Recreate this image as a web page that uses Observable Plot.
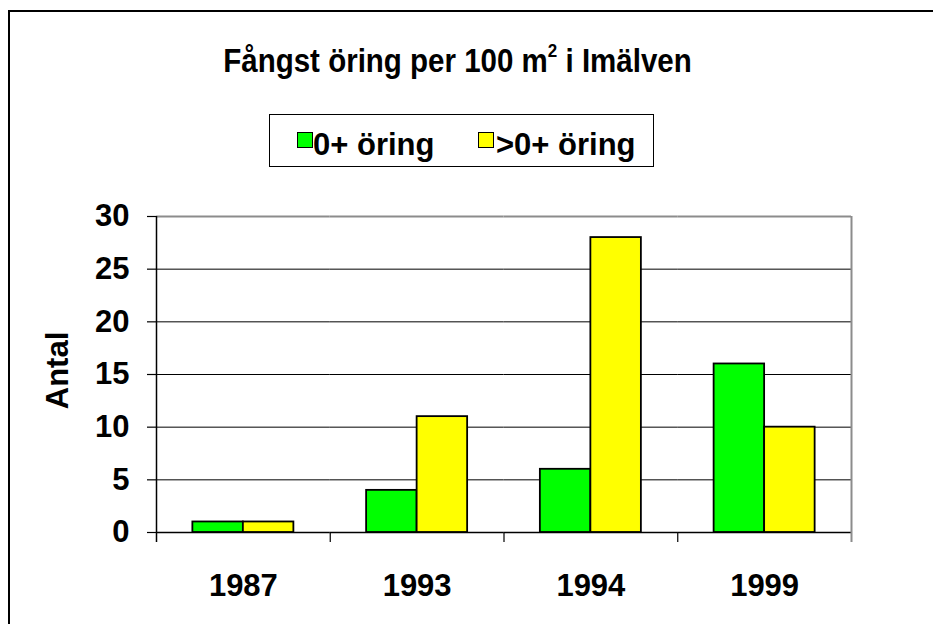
<!DOCTYPE html>
<html><head><meta charset="utf-8">
<script src="https://cdn.jsdelivr.net/npm/d3@7"></script>
<script src="https://cdn.jsdelivr.net/npm/@observablehq/plot@0.6"></script>
<style>
body{margin:0;background:#fff;font-family:"Liberation Sans",Arial,sans-serif;}
#wrap{position:relative;width:933px;height:624px;overflow:hidden;background:#fff;}
#chart{position:absolute;left:0;top:0;}
#border{position:absolute;left:8px;top:10px;width:1000px;height:700px;border-top:2px solid #000;border-left:2px solid #000;}
.t{position:absolute;font-weight:bold;font-size:31px;line-height:31px;white-space:nowrap;color:#000;}
#title{left:0;width:915px;top:46px;text-align:center;font-size:29.5px;line-height:29.5px;transform:scaleY(1.1);}
#title .sup{font-size:17px;position:relative;top:-13px;}
#legend{position:absolute;left:269px;top:114px;width:385px;height:53px;border:1px solid #000;box-sizing:border-box;}
.sw{position:absolute;width:16px;height:16px;border:1.5px solid #000;box-sizing:border-box;}
#ylab{left:-3px;top:355px;width:120px;text-align:center;transform:rotate(-90deg);}
</style></head>
<body>
<div id="wrap">
  <div id="chart"></div>
  <div id="border"></div>
  <div class="t" id="title"></div>
  <div id="legend"></div>
  <div class="t" id="ylab"></div>
</div>
<script>
// ---- data ----
const years = ["1987", "1993", "1994", "1999"];
const seriesNames = ["0+ öring", ">0+ öring"];
const young = [1, 4, 6, 16];      // 0+ öring
const older = [1, 11, 28, 10];    // >0+ öring
const yTicks = [0, 5, 10, 15, 20, 25, 30];
const titleText = "Fångst öring per 100 m";
const titleSup = "2";
const titleTail = " i Imälven";
const yLabel = "Antal";
const colors = ["#00ff00", "#ffff00"];

const rows = [];
years.forEach((yr, i) => {
  rows.push({year: yr, series: seriesNames[0], value: young[i]});
  rows.push({year: yr, series: seriesNames[1], value: older[i]});
});

// ---- layout ----
const W = 933, H = 624;
const mL = 156, mR = 82, mT = 216, mB = 92;
const padOuter = 0.72;
const facetBand = (W - mL - mR) / years.length;
const step = facetBand / (seriesNames.length + 2 * padOuter);
const outerPx = padOuter * step;
const edgeOffset = outerPx + step / 2; // from band centre to facet edge

const leftEdges = years.map((yr, i) => ({year: yr, first: i === 0}));
const rightEdge = [{year: years[years.length - 1]}];

const font = "'Liberation Sans', Arial, sans-serif";

const plot = Plot.plot({
  width: W, height: H,
  marginLeft: mL, marginRight: mR, marginTop: mT, marginBottom: mB,
  style: {fontFamily: font, fontSize: "31px", fontWeight: "bold", color: "#000", background: "transparent"},
  fx: {domain: years, padding: 0, round: false, label: null, tickSize: 0, tickPadding: 41},
  x: {domain: seriesNames, paddingInner: 0, paddingOuter: padOuter, round: false, axis: null},
  y: {domain: [0, 30], ticks: yTicks, tickSize: 9, tickPadding: 18, label: null},
  color: {domain: seriesNames, range: colors},
  marks: [
    Plot.ruleY([5, 10, 15, 20, 25], {stroke: "#000", strokeWidth: 1}),
    Plot.ruleY([30], {stroke: "#8c8c8c", strokeWidth: 2}),
    Plot.ruleY([0], {stroke: "#000", strokeWidth: 1.5}),
    Plot.ruleX(leftEdges.filter(d => !d.first), {fx: "year", x: () => seriesNames[0], dx: -edgeOffset, y1: 0, y2: 0, insetBottom: -10, stroke: "#000", strokeWidth: 1.2}),
    Plot.ruleX(rightEdge, {fx: "year", x: () => seriesNames[1], dx: edgeOffset, y1: 30, y2: 0, insetBottom: -10, stroke: "#8c8c8c", strokeWidth: 2}),
    Plot.ruleX(leftEdges.filter(d => d.first), {fx: "year", x: () => seriesNames[0], dx: -edgeOffset, y1: 30, y2: 0, insetBottom: -10, stroke: "#000", strokeWidth: 1.5}),
    Plot.barY(rows, {fx: "year", x: "series", y: "value", fill: "series", stroke: "#000", strokeWidth: 1.8}),
    Plot.axisY({ticks: yTicks, tickSize: 9, tickPadding: 18, stroke: "#000", strokeWidth: 1.2})
  ]
});
document.getElementById("chart").appendChild(plot);

// ---- title, legend, y label ----
const title = document.getElementById("title");
title.innerHTML = "";
title.appendChild(document.createTextNode(titleText));
const sup = document.createElement("span"); sup.className = "sup"; sup.textContent = titleSup;
title.appendChild(sup);
title.appendChild(document.createTextNode(titleTail));

const legend = document.getElementById("legend");
const legPos = [{sw: 297 - 269, tx: 313 - 269}, {sw: 478 - 269, tx: 496 - 269}];
seriesNames.forEach((s, i) => {
  const sw = document.createElement("div");
  sw.className = "sw";
  sw.style.left = (legPos[i].sw - 1) + "px";
  sw.style.top = (132 - 115) + "px";
  sw.style.background = colors[i];
  legend.appendChild(sw);
  const tx = document.createElement("div");
  tx.className = "t";
  tx.style.left = (legPos[i].tx - 1) + "px";
  tx.style.top = (129 - 115) + "px";
  tx.textContent = s;
  legend.appendChild(tx);
});
document.getElementById("ylab").textContent = yLabel;
</script>
</body></html>
